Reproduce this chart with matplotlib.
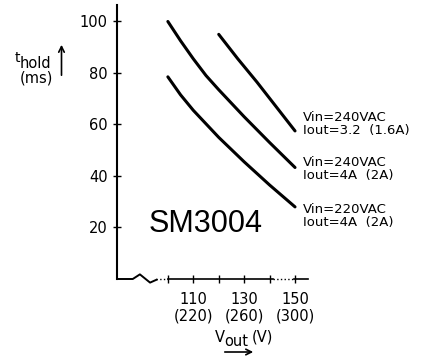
import matplotlib
matplotlib.use("Agg")
import matplotlib.pyplot as plt

# hold-up time curves
x_240_16 = [120, 127.5, 135, 142.5, 150]
t_240_16 = [95, 85.5, 76.5, 67, 57.5]

x_240_2 = [100, 105, 110, 115, 120, 130, 140, 150]
t_240_2 = [100, 92.5, 85.5, 79, 73.5, 63, 53, 43.3]

x_220_2 = [100, 105, 110, 120, 130, 140, 150]
t_220_2 = [78.5, 71.5, 65.5, 55, 45.5, 36.5, 28]

curve_labels = ["Vin=240VAC\nIout=3.2  (1.6A)",
                "Vin=240VAC\nIout=4A  (2A)",
                "Vin=220VAC\nIout=4A  (2A)"]
label_y = [60.0, 42.9, 24.5]

y_ticks = [20, 40, 60, 80, 100]
x_ticks = [100, 110, 120, 130, 140, 150]
x_tick_labels = ["", "110\n(220)", "", "130\n(260)", "", "150\n(300)"]

W, H = 435, 356
fig = plt.figure(figsize=(W / 100, H / 100), dpi=100)
ax = fig.add_axes([117 / W, 1 - 279 / H, 191 / W, 274 / H])
ax.set_xlim(80, 155.1)
ax.set_ylim(0, 106.4)

for side in ["top", "right", "bottom"]:
    ax.spines[side].set_visible(False)
ax.spines["left"].set_linewidth(1.5)

ax.plot(x_240_16, t_240_16, color="black", lw=2.2, solid_capstyle="round")
ax.plot(x_240_2, t_240_2, color="black", lw=2.2, solid_capstyle="round")
ax.plot(x_220_2, t_220_2, color="black", lw=2.2, solid_capstyle="round")

# broken x axis
ax.plot([80, 86.2, 89, 93, 95.5], [0, 0, 1.8, -1.4, -0.3], color="black", lw=1.4, clip_on=False)
ax.plot([95.5, 100], [0, 0], color="black", lw=1, ls=":", clip_on=False)
ax.plot([100, 141.5], [0, 0], color="black", lw=1.2, clip_on=False)
ax.plot([141.5, 149.5], [0, 0], color="black", lw=1, ls=":", clip_on=False)
ax.plot([149.5, 155.1], [0, 0], color="black", lw=1.2, clip_on=False)

ax.set_yticks(y_ticks)
ax.set_xticks(x_ticks)
ax.set_xticklabels(x_tick_labels, linespacing=1.1)
ax.tick_params(axis="y", direction="inout", length=6, width=1, pad=3.6, labelsize=10.5)
ax.tick_params(axis="x", direction="inout", length=6, width=1, pad=6.5, labelsize=10.5)

for text, y in zip(curve_labels, label_y):
    ax.text(153.1, y, text, fontsize=9.5, va="center", ha="left",
            linespacing=1.0, clip_on=False)

ax.text(115, 21.2, "SM3004", fontsize=22, ha="center", va="center",
        family="Liberation Sans", fontweight="light")

# y axis label with arrow
fig.text(15 / W, 1 - 62 / H, "t", fontsize=10, va="baseline")
fig.text(20 / W, 1 - 68 / H, "hold", fontsize=10.5, va="baseline")
fig.text(36.5 / W, 1 - 78 / H, "(ms)", fontsize=10.5, va="center", ha="center")
ax.annotate("", xy=(61.5 / W, 1 - 42 / H), xytext=(61.5 / W, 1 - 78 / H),
            xycoords="figure fraction", textcoords="figure fraction",
            arrowprops=dict(arrowstyle="->", lw=1.2, color="black"))

# x axis label with arrow
fig.text(215 / W, 1 - 342 / H, "V", fontsize=10.5, va="baseline")
fig.text(224 / W, 1 - 346 / H, "out", fontsize=10.5, va="baseline")
fig.text(252 / W, 1 - 342 / H, "(V)", fontsize=10.5, va="baseline")
ax.annotate("", xy=(256 / W, 1 - 352 / H), xytext=(222 / W, 1 - 352 / H),
            xycoords="figure fraction", textcoords="figure fraction",
            arrowprops=dict(arrowstyle="->", lw=1.2, color="black"))

fig.savefig("out.png", dpi=100)
plt.close(fig)
